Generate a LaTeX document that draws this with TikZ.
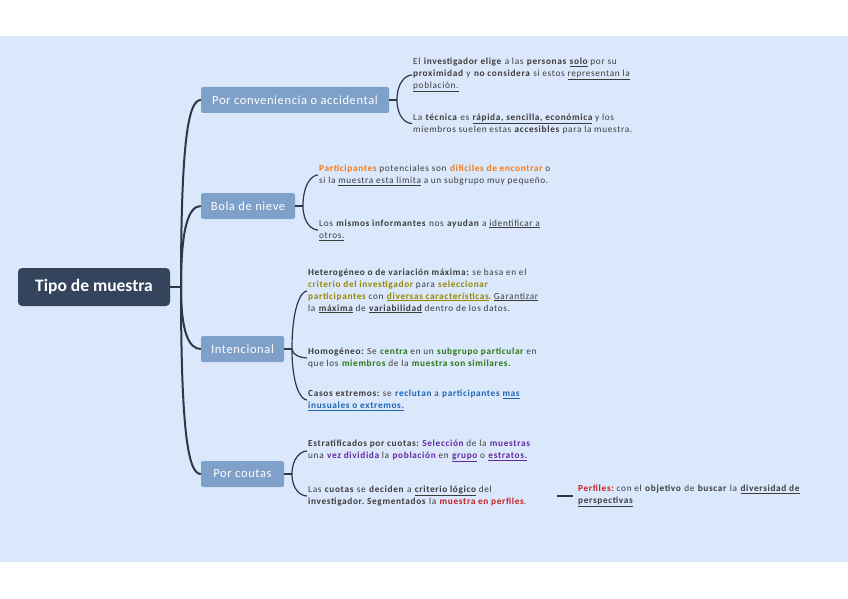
\documentclass[tikz,border=0pt]{standalone}
\usepackage{fontspec}
\setmainfont{Carlito}
\newfontfamily\leaffont[LetterSpace=7]{Carlito}
\newfontfamily\branchfont[LetterSpace=5]{Carlito}
\usepackage{xcolor}
\usepackage{tikz}
\usetikzlibrary{positioning, calc}

\definecolor{bgblue}{RGB}{219,232,252}
\definecolor{rootblue}{RGB}{52,68,92}
\definecolor{branchblue}{RGB}{127,160,201}
\definecolor{linedark}{RGB}{45,55,72}
\definecolor{txtgrey}{RGB}{60,60,60}
\definecolor{orangeT}{RGB}{245,120,20}
\definecolor{oliveT}{RGB}{150,135,0}
\definecolor{greenT}{RGB}{40,120,20}
\definecolor{blueT}{RGB}{30,100,180}
\definecolor{purpleT}{RGB}{100,40,160}
\definecolor{redT}{RGB}{200,30,30}

\newcommand\hl[2]{\textbf{\textcolor{#1}{#2}}}
\newcommand\un[1]{\underline{#1}}
\frenchspacing

\begin{document}
\begin{tikzpicture}[x=1pt, y=-1pt,
  root/.style={rectangle, fill=rootblue, text=white, rounded corners=4pt,
               font=\fontsize{17.5}{20}\selectfont\bfseries,
               minimum width=152pt, minimum height=38pt},
  branch/.style={rectangle, fill=branchblue, text=white, rounded corners=2pt,
                 font=\branchfont\fontsize{12.5}{15}\selectfont, minimum height=26pt},
  leaf/.style={anchor=west, align=left, text=txtgrey, inner sep=1pt,
               font=\leaffont\fontsize{9.3}{12}\selectfont},
  trunk/.style={draw=linedark, line width=2pt},
  twig/.style={draw=linedark, line width=1.2pt}
]
\useasboundingbox (0,0) rectangle (848,599);
\fill[white] (0,0) rectangle (848,599);
\fill[bgblue] (0,36) rectangle (848,562);

% centre and main branches
\node[root] (tipo) at (94,287) {Tipo de muestra};
\node[branch, minimum width=188pt] (conv) at (295,100) {Por conveniencia o accidental};
\node[branch, minimum width=94pt]  (bola) at (248,206) {Bola de nieve};
\node[branch, minimum width=83pt]  (inte) at (242.5,349) {Intencional};
\node[branch, minimum width=83pt]  (cout) at (242.5,474) {Por coutas};

\coordinate (tj) at (181,287);
\draw[trunk] (tipo.east) -- (tj);
\draw[trunk] (tj) .. controls +(0,-150) and +(-12,0) .. (conv.west);
\draw[trunk] (tj) .. controls +(0,-60) and +(-12,0) .. (bola.west);
\draw[trunk] (tj) .. controls +(0,45) and +(-12,0) .. (inte.west);
\draw[trunk] (tj) .. controls +(0,150) and +(-12,0) .. (cout.west);

% Por conveniencia
\node[leaf] (conv1) at (412,75) {El \textbf{investigador elige} a las \textbf{personas} \textbf{\un{solo}} por su\\
  \textbf{proximidad} y \textbf{no considera} si estos \un{representan la}\\
  \un{población.}};
\node[leaf] (conv2) at (412,123.5) {La \textbf{técnica} es \textbf{\un{rápida, sencilla, económica}} y los\\
  miembros suelen estas \textbf{accesibles} para la muestra.};
\coordinate (cvj) at (397,100);
\draw[twig] (conv.east) -- (cvj);
\draw[twig] (cvj) .. controls +(0,-18) and +(-6,0) .. (conv1.west);
\draw[twig] (cvj) .. controls +(0,17) and +(-6,0) .. (conv2.west);

% Bola de nieve
\node[leaf] (bola1) at (318,175) {\hl{orangeT}{Participantes} potenciales son \hl{orangeT}{difíciles de encontrar} o\\
  si la \un{muestra esta limita} a un subgrupo muy pequeño.};
\node[leaf] (bola2) at (318,230) {Los \textbf{mismos informantes} nos \textbf{ayudan} a \un{identificar a}\\
  \un{otros.}};
\coordinate (bnj) at (303,206);
\draw[twig] (bola.east) -- (bnj);
\draw[twig] (bnj) .. controls +(0,-22) and +(-6,0) .. (bola1.west);
\draw[twig] (bnj) .. controls +(0,17) and +(-6,0) .. (bola2.west);

% Intencional
\node[leaf] (inte1) at (307,291) {\textbf{Heterogéneo o de variación máxima:} se basa en el\\
  \hl{oliveT}{criterio del investigador} para \hl{oliveT}{seleccionar}\\
  \hl{oliveT}{participantes} con \hl{oliveT}{\un{diversas características}}. \un{Garantizar}\\
  la \textbf{\un{máxima}} de \textbf{\un{variabilidad}} dentro de los datos.};
\node[leaf] (inte2) at (307,358) {\textbf{Homogéneo:} Se \hl{greenT}{centra} en un \hl{greenT}{subgrupo particular} en\\
  que los \hl{greenT}{miembros} de la \hl{greenT}{muestra son similares.}};
\node[leaf] (inte3) at (307,400) {\textbf{Casos extremos:} se \hl{blueT}{reclutan} a \hl{blueT}{participantes \un{mas}}\\
  \hl{blueT}{\un{inusuales o extremos.}}};
\coordinate (inj) at (292,349);
\draw[twig] (inte.east) -- (inj);
\draw[twig] (inj) .. controls +(0,-42) and +(-6,0) .. (inte1.west);
\draw[twig] (inj) .. controls +(0,6) and +(-6,0) .. (inte2.west);
\draw[twig] (inj) .. controls +(0,37) and +(-6,0) .. (inte3.west);

% Por coutas
\node[leaf] (cout1) at (307,451) {\textbf{Estratificados por cuotas:} \hl{purpleT}{Selección} de la \hl{purpleT}{muestras}\\
  una \hl{purpleT}{vez dividida} la \hl{purpleT}{población} en \hl{purpleT}{\un{grupo}} o \hl{purpleT}{\un{estratos.}}};
\node[leaf] (cout2) at (307,496) {Las \textbf{cuotas} se \textbf{deciden} a \textbf{\un{criterio lógico}} del\\
  \textbf{investigador. Segmentados} la \hl{redT}{muestra en perfiles}.};
\node[leaf] (perf) at (577,496) {\hl{redT}{Perfiles:} con el \textbf{objetivo} de \textbf{buscar} la \textbf{\un{diversidad de}}\\
  \textbf{\un{perspectivas}}};
\coordinate (ctj) at (292,474);
\draw[twig] (cout.east) -- (ctj);
\draw[twig] (ctj) .. controls +(0,-16) and +(-6,0) .. (cout1.west);
\draw[twig] (ctj) .. controls +(0,16) and +(-6,0) .. (cout2.west);
\draw[twig, shorten <=30pt, shorten >=4pt] (cout2.east) -- (perf.west);
\end{tikzpicture}
\end{document}
